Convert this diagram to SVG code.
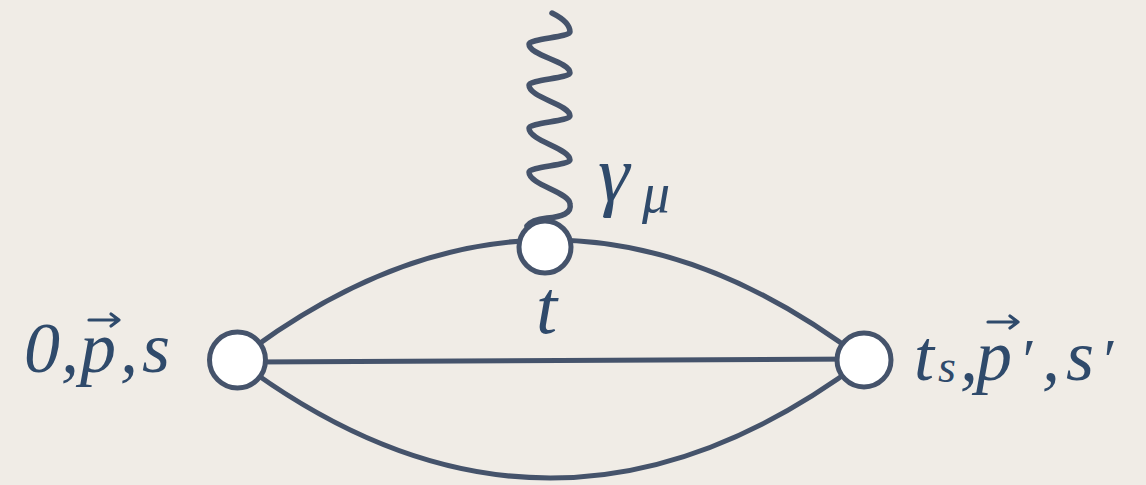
<svg xmlns="http://www.w3.org/2000/svg" width="1146" height="485" viewBox="0 0 1146 485">
  <defs>
    <style>
      .ln { fill: none; stroke: #45536b; stroke-width: 5; stroke-linecap: round; }
      .wv { fill: none; stroke: #45536b; stroke-width: 5.5; stroke-linecap: round; }
      .nd { fill: #ffffff; stroke: #45536b; stroke-width: 5; }
      .tx { font-family: "Liberation Serif", "DejaVu Serif", serif; font-style: italic; fill: #2f4a6b; }
      .acc { fill: none; stroke: #2f4a6b; stroke-width: 3.2; stroke-linecap: round; stroke-linejoin: round; }
    </style>
  </defs>
  <rect x="0" y="0" width="1146" height="485" fill="#f0ece6"/>

  <g id="connectors">
    <path class="ln" d="M237,362 L864,359"/>
    <path class="ln" d="M237,360 Q550,120 864,360"/>
    <path class="ln" d="M237,360 Q550,596 864,360"/>
    <path class="wv" d="M552,13 C560,17 570,24 570,32 C570,37 529,39 529,44 C529,56 570,61 570,73 C570,78 529,80 529,85 C529,98 570,104 570,116 C570,121 529,123 529,128 C529,141 570,148 570,160 C570,165 529,167 529,172 C529,185 570,192 570,204 C572,213 562,217 547,218 C537,219 530,222 527,226"/>
  </g>

  <g id="node-left">
    <circle class="nd" cx="237.5" cy="360" r="28"/>
  </g>
  <g id="node-right">
    <circle class="nd" cx="864" cy="360" r="27"/>
  </g>
  <g id="node-top">
    <circle class="nd" cx="545" cy="247" r="26"/>
  </g>

  <g id="label-left">
    <text class="tx" font-size="72" y="372"><tspan x="24">0</tspan><tspan x="61">,</tspan><tspan x="80">p</tspan><tspan x="120">,</tspan><tspan x="142">s</tspan></text>
    <path class="acc" d="M89,320 L119,320 M111,314 L119,320 L111,326"/>
  </g>

  <g id="label-right">
    <text class="tx" font-size="72" y="380"><tspan x="914">t</tspan><tspan x="938" y="382" font-size="46">s</tspan><tspan x="960" y="380">,</tspan><tspan x="976">p</tspan><tspan x="1019" font-size="60">′</tspan><tspan x="1042" font-size="72">,</tspan><tspan x="1066">s</tspan><tspan x="1100" font-size="60">′</tspan></text>
    <path class="acc" d="M988,322 L1018,322 M1010,316 L1018,322 L1010,328"/>
  </g>

  <g id="label-t">
    <text class="tx" font-size="76" x="536" y="333">t</text>
  </g>
  <g id="label-gamma">
    <text class="tx" font-size="80" y="201"><tspan x="598">γ</tspan><tspan x="642" y="212" font-size="56">μ</tspan></text>
  </g>
</svg>
